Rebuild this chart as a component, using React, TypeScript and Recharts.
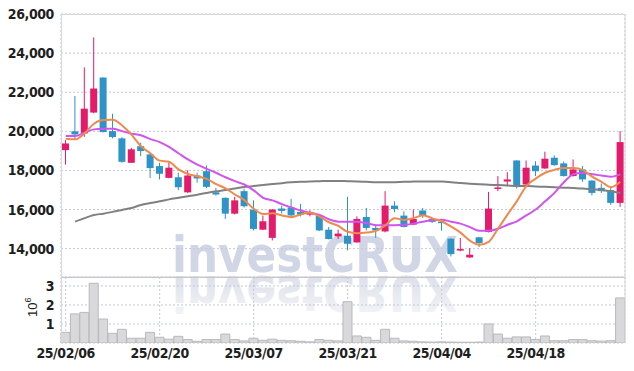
import { ComposedChart, Bar, Line, XAxis, YAxis, CartesianGrid } from 'recharts';

// trading days (YY/MM/DD)
const dates = [
  '25/02/06', '25/02/07', '25/02/10', '25/02/11', '25/02/12', '25/02/13', '25/02/14', '25/02/17', '25/02/18', '25/02/19',
  '25/02/20', '25/02/21', '25/02/24', '25/02/25', '25/02/26', '25/02/27', '25/02/28', '25/03/04', '25/03/05', '25/03/06',
  '25/03/07', '25/03/10', '25/03/11', '25/03/12', '25/03/13', '25/03/14', '25/03/17', '25/03/18', '25/03/19', '25/03/20',
  '25/03/21', '25/03/24', '25/03/25', '25/03/26', '25/03/27', '25/03/28', '25/03/31', '25/04/01', '25/04/02', '25/04/03',
  '25/04/04', '25/04/07', '25/04/08', '25/04/09', '25/04/10', '25/04/11', '25/04/14', '25/04/15', '25/04/16', '25/04/17',
  '25/04/18', '25/04/21', '25/04/22', '25/04/23', '25/04/24', '25/04/25', '25/04/28', '25/04/29', '25/04/30', '25/05/02',
];
const tickDates = ['25/02/06', '25/02/20', '25/03/07', '25/03/21', '25/04/04', '25/04/18'];

const opens = [
  19040, 20000, 19890, 20960, 22750, 20010, 19640, 18390, 19240, 18820,
  18220, 17620, 17650, 16880, 17740, 17960, 16880, 16600, 15790, 16940,
  16000, 14970, 14550, 16050, 16110, 15880, 15740, 15690, 14970, 14630,
  14660, 14320, 15620, 15060, 14880, 16200, 15690, 15230, 15950, 15520,
  15380, 14510, 13910, 13550, 14580, 14850, 17060, 17430, 18510, 17280,
  18250, 18100, 18650, 18360, 17710, 18050, 17480, 17110, 16990, 16340,
];
const highs = [
  19550, 21810, 23270, 24800, 22760, 20900, 19700, 19160, 19420, 18900,
  18390, 18470, 17880, 18010, 17880, 18250, 17110, 16620, 16650, 17060,
  16470, 15690, 16020, 16200, 16550, 16290, 15960, 15740, 15110, 14970,
  16650, 15650, 16080, 15230, 16940, 16420, 15910, 16000, 16080, 15560,
  15520, 14530, 14550, 14030, 14600, 16900, 17710, 17910, 18520, 18510,
  18470, 18960, 18770, 18460, 18560, 18220, 17500, 17330, 17110, 20010,
];
const lows = [
  18300, 19590, 19720, 20920, 19950, 19640, 18390, 18380, 18730, 17620,
  17540, 17600, 16990, 16850, 17370, 17100, 16720, 15520, 15750, 16100,
  14930, 14950, 14420, 15790, 15620, 15650, 15650, 14900, 14470, 14490,
  13910, 14300, 14930, 14550, 14830, 15860, 15090, 15200, 15570, 15310,
  14920, 13600, 13860, 13530, 14080, 14830, 16940, 17190, 17070, 17250,
  17710, 18080, 18240, 17690, 17690, 17420, 16720, 16850, 16240, 16140,
];
const closes = [
  19380, 19840, 21160, 22190, 19960, 19710, 18440, 19080, 18990, 18120,
  17830, 18140, 17140, 17740, 17590, 17160, 16770, 15790, 16470, 16170,
  15010, 15400, 16000, 15930, 15700, 15740, 15880, 14930, 14490, 14770,
  14250, 15520, 15060, 14930, 16200, 16030, 15110, 15520, 15700, 15370,
  15310, 13720, 13980, 13690, 14290, 16050, 17130, 17540, 17160, 18140,
  17960, 18600, 18270, 17710, 18050, 17540, 16850, 16940, 16340, 19450,
];
const volumes = [
  560000, 1530000, 1610000, 3140000, 1260000, 510000, 720000, 250000, 250000, 560000,
  300000, 200000, 350000, 180000, 90000, 180000, 180000, 470000, 180000, 110000,
  250000, 140000, 200000, 140000, 120000, 90000, 60000, 180000, 140000, 110000,
  2170000, 370000, 300000, 140000, 720000, 250000, 110000, 90000, 60000, 50000,
  60000, 50000, 40000, 40000, 50000, 1000000, 470000, 250000, 320000, 320000,
  180000, 370000, 120000, 120000, 180000, 180000, 120000, 100000, 120000, 2370000,
];
const ma5 = [
  19620, 19590, 19900, 20390, 20580, 20590, 20300, 19830, 19240, 18880,
  18500, 18440, 18050, 17820, 17700, 17570, 17300, 17080, 16770, 16480,
  16040, 15770, 15810, 15700, 15610, 15750, 15850, 15640, 15350, 15160,
  14860, 14790, 14820, 14910, 15190, 15550, 15470, 15560, 15710, 15550,
  15400, 15130, 14820, 14410, 14200, 14350, 15030, 15740, 16430, 17200,
  17580, 17880, 18030, 18130, 18120, 18030, 17680, 17420, 17140, 17420,
];
const ma10 = [
  19760, 19760, 19930, 20100, 20130, 20130, 20010, 19880, 19800, 19600,
  19450, 19200, 18880, 18560, 18300, 18080, 17880, 17650, 17450, 17280,
  16980, 16600, 16470, 16280, 16110, 15950, 15830, 15720, 15500, 15380,
  15370, 15380, 15300, 15200, 15200, 15200, 15220, 15280, 15380, 15450,
  15480, 15380, 15280, 15100, 14920, 14920, 15020, 15220, 15400, 15700,
  16000, 16420, 16850, 17400, 17800, 17870, 17800, 17740, 17680, 17800,
];
const ma60 = [
  null, 15380, 15560, 15720, 15790, 15880, 15980, 16080, 16230, 16330,
  16420, 16520, 16600, 16680, 16760, 16850, 16930, 17000, 17080, 17150,
  17200, 17250, 17300, 17350, 17390, 17420, 17440, 17450, 17460, 17460,
  17450, 17440, 17420, 17400, 17390, 17400, 17420, 17430, 17440, 17440,
  17430, 17400, 17360, 17320, 17290, 17270, 17250, 17230, 17210, 17200,
  17180, 17160, 17140, 17120, 17100, 17080, 17040, 17000, 16930, 16850,
];

const UP = '#e41a6a';
const DOWN = '#2e93c6';
const FONT = "'Liberation Sans Narrow', 'DejaVu Sans Condensed', sans-serif";
const GRID = '#c3c7d6';

const data = dates.map((date, i) => ({
  date,
  open: opens[i],
  high: highs[i],
  low: lows[i],
  close: closes[i],
  range: [lows[i], highs[i]],
  volume: volumes[i],
  ma5: ma5[i],
  ma10: ma10[i],
  ma60: ma60[i],
}));

const Candle = (props: any) => {
  const { x, y, width, height, payload } = props;
  const { open, close, high, low } = payload;
  const top = Math.min(y, y + height);
  const h = Math.abs(height);
  const py = (v: number) => top + ((high - v) / (high - low)) * h;
  const color = close >= open ? UP : DOWN;
  const cx = x + width / 2;
  const bTop = py(Math.max(open, close));
  const bBot = py(Math.min(open, close));
  return (
    <g>
      <line x1={cx} x2={cx} y1={top} y2={top + h} stroke={color} strokeWidth={1} />
      <rect x={x} y={bTop} width={width} height={Math.max(bBot - bTop, 1.5)} fill={color} />
    </g>
  );
};

const tickStyle = { fill: '#1e1e1e', fontSize: 14, fontFamily: FONT, fontWeight: 600, letterSpacing: -0.4 };

export default function App() {
  return (
    <div style={{ position: 'absolute', left: 0, top: 0, width: 634, height: 371, background: '#fff' }}>
      {/* watermark */}
      <svg width={634} height={371} style={{ position: 'absolute', left: 0, top: 0 }}>
        <defs>
          <linearGradient id="fade" gradientUnits="userSpaceOnUse" x1="0" y1="272" x2="0" y2="232">
            <stop offset="0" stopColor="#dde0ea" />
            <stop offset="1" stopColor="#f3f4f7" />
          </linearGradient>
        </defs>
        <text x={172} y={272} textLength={286} lengthAdjust="spacingAndGlyphs" fontSize={50} fontWeight="bold"
          fontFamily="'DejaVu Sans Condensed', 'DejaVu Sans', sans-serif" fill="#d1d6e6">investCRUX</text>
        <g transform="translate(0,548) scale(1,-1)">
          <text x={172} y={272} textLength={286} lengthAdjust="spacingAndGlyphs" fontSize={50} fontWeight="bold"
            fontFamily="'DejaVu Sans Condensed', 'DejaVu Sans', sans-serif" fill="url(#fade)">investCRUX</text>
        </g>
      </svg>

      <div style={{ position: 'absolute', left: 0, top: 0 }}>
        <ComposedChart width={634} height={277} data={data} margin={{ top: 14, right: 9, bottom: 0, left: 0 }}>
          <CartesianGrid stroke={GRID} strokeDasharray="2 2" />
          <XAxis dataKey="date" ticks={tickDates} interval={0} height={0} tick={false} axisLine={false} tickLine={false} />
          <YAxis width={61} domain={[12550, 26000]} ticks={[14000, 16000, 18000, 20000, 22000, 24000, 26000]}
            interval={0} allowDataOverflow axisLine={false} tickLine={false} tickSize={0} tickMargin={7} tick={tickStyle}
            tickFormatter={(v: number) => v.toLocaleString('en-US')} />
          <Line dataKey="ma60" stroke="#808080" strokeWidth={2} dot={false} isAnimationActive={false} type="monotone" />
          <Line dataKey="ma10" stroke="#cf55ee" strokeWidth={2} dot={false} isAnimationActive={false} type="monotone" />
          <Line dataKey="ma5" stroke="#ef8a4e" strokeWidth={2} dot={false} isAnimationActive={false} type="monotone" />
          <Bar dataKey="range" barSize={7} shape={Candle} isAnimationActive={false} />
        </ComposedChart>
      </div>

      <div style={{ position: 'absolute', left: 0, top: 277 }}>
        <ComposedChart width={634} height={94} data={data} margin={{ top: 0, right: 9, bottom: 0, left: 0 }} barCategoryGap={0}>
          <CartesianGrid stroke={GRID} strokeDasharray="2 2" />
          <XAxis dataKey="date" ticks={tickDates} interval={0} height={28} axisLine={false} tickLine={false}
            tickSize={0} tickMargin={5} tick={tickStyle} />
          <YAxis width={61} domain={[0, 3470000]} ticks={[1000000, 2000000, 3000000]} interval={0} allowDataOverflow
            axisLine={false} tickLine={false} tickSize={0} tickMargin={7} tick={tickStyle}
            tickFormatter={(v: number) => String(v / 1000000)} />
          <Bar dataKey="volume" fill="#d9d9db" stroke="#b9b9bc" strokeWidth={1} isAnimationActive={false} />
        </ComposedChart>
      </div>

      {/* pane frames and unit label */}
      <svg width={634} height={371} style={{ position: 'absolute', left: 0, top: 0, pointerEvents: 'none' }}>
        <rect x={61.5} y={14.5} width={563.5} height={262.5} fill="none" stroke="#d6d7e0" />
        <line x1={61} x2={625} y1={277.5} y2={277.5} stroke="#c6c6c6" />
        <line x1={61.5} x2={61.5} y1={277} y2={343} stroke="#d6d7e0" />
        <line x1={625} x2={625} y1={277} y2={343} stroke="#d6d7e0" />
        <text transform="translate(37,317) rotate(-90)" fontSize={13} fontFamily="'Liberation Sans', sans-serif" fill="#222">
          10<tspan dy={-6} fontSize={9}>6</tspan>
        </text>
      </svg>
    </div>
  );
}
